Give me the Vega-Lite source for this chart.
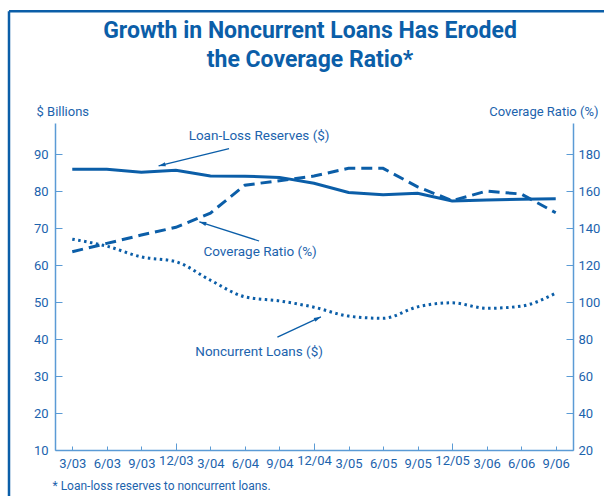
{
  "$schema": "https://vega.github.io/schema/vega-lite/v6.json",
  "width": 518,
  "height": 327,
  "autosize": {"type": "none"},
  "padding": {"left": 55, "top": 123, "right": 31, "bottom": 46},
  "background": "white",
  "config": {
    "font": "Roboto, sans-serif",
    "view": {"stroke": null},
    "axis": {
      "grid": false,
      "domainColor": "#5b9bd5",
      "tickColor": "#5b9bd5",
      "domainWidth": 1.5,
      "labelColor": "#1c63ad",
      "labelFontSize": 13,
      "titleColor": "#1c63ad",
      "titleFontWeight": "normal",
      "titleFontSize": 13
    }
  },
  "title": {
    "text": ["Growth in Noncurrent Loans Has Eroded", "the Coverage Ratio*"],
    "font": "Roboto",
    "fontSize": 23,
    "fontWeight": "bold",
    "color": "#0b5ea8",
    "lineHeight": 29,
    "anchor": "middle",
    "offset": -62,
    "dx": -4
  },
  "datasets": {
    "main": [
      {"i": 0, "q": "3/03", "reserves": 85.9, "noncurrent": 67.0, "coverage": 127.2},
      {"i": 1, "q": "6/03", "reserves": 85.9, "noncurrent": 65.1, "coverage": 131.7},
      {"i": 2, "q": "9/03", "reserves": 85.1, "noncurrent": 62.2, "coverage": 136.2},
      {"i": 3, "q": "12/03", "reserves": 85.6, "noncurrent": 60.9, "coverage": 140.4},
      {"i": 4, "q": "3/04", "reserves": 84.1, "noncurrent": 55.9, "coverage": 148.1},
      {"i": 5, "q": "6/04", "reserves": 84.0, "noncurrent": 51.4, "coverage": 163.2},
      {"i": 6, "q": "9/04", "reserves": 83.7, "noncurrent": 50.3, "coverage": 165.6},
      {"i": 7, "q": "12/04", "reserves": 82.1, "noncurrent": 48.6, "coverage": 168.1},
      {"i": 8, "q": "3/05", "reserves": 79.6, "noncurrent": 46.2, "coverage": 172.3},
      {"i": 9, "q": "6/05", "reserves": 79.0, "noncurrent": 45.6, "coverage": 172.3},
      {"i": 10, "q": "9/05", "reserves": 79.4, "noncurrent": 48.7, "coverage": 162.3},
      {"i": 11, "q": "12/05", "reserves": 77.3, "noncurrent": 49.8, "coverage": 154.8},
      {"i": 12, "q": "3/06", "reserves": 77.6, "noncurrent": 48.3, "coverage": 160.0},
      {"i": 13, "q": "6/06", "reserves": 77.8, "noncurrent": 48.9, "coverage": 158.4},
      {"i": 14, "q": "9/06", "reserves": 77.9, "noncurrent": 52.4, "coverage": 148.3}
    ],
    "notes": [
      {"label": "Loan-Loss Reserves ($)", "x": 5.41, "y": 94.9},
      {"label": "Coverage Ratio (%)", "x": 5.44, "y": 63.5},
      {"label": "Noncurrent Loans ($)", "x": 5.41, "y": 36.5}
    ],
    "arrows": [
      {"id": "reserves", "x": 4.54, "y": 91.5, "x2": 2.5, "y2": 86.8},
      {"id": "coverage", "x": 5.41, "y": 66.5, "x2": 3.68, "y2": 71.7},
      {"id": "noncurrent", "x": 5.94, "y": 40.5, "x2": 7.2, "y2": 46.0}
    ],
    "one": [{}]
  },
  "layer": [
    {
      "layer": [
        {
          "data": {"name": "main"},
          "mark": {"type": "line", "color": "#0b5ea8", "strokeWidth": 3},
          "encoding": {
            "x": {
              "field": "i",
              "type": "quantitative",
              "scale": {"domain": [-0.5, 14.5], "nice": false, "zero": false},
              "axis": {
                "values": [0, 1, 2, 3, 4, 5, 6, 7, 8, 9, 10, 11, 12, 13, 14],
                "tickCount": 15,
                "labelExpr": "['3/03','6/03','9/03','12/03','3/04','6/04','9/04','12/04','3/05','6/05','9/05','12/05','3/06','6/06','9/06'][datum.value]",
                "labelOverlap": false,
                "tickSize": {"condition": {"test": "datum.value % 4 == 3", "value": -7}, "value": -4},
                "labelPadding": 11,
                "labelFlush": false,
                "title": "* Loan-loss reserves to noncurrent loans.",
                "titleAnchor": "start",
                "titleAlign": "left",
                "titleBaseline": "alphabetic",
                "titleX": -3,
                "titleY": 39,
                "titleFontSize": 12
              }
            },
            "y": {
              "field": "reserves",
              "type": "quantitative",
              "scale": {"domain": [10, 98.4], "nice": false, "zero": false},
              "axis": {
                "values": [10, 20, 30, 40, 50, 60, 70, 80, 90],
                "tickSize": -7,
                "labelPadding": 14,
                "title": "$ Billions",
                "titleAngle": 0,
                "titleAlign": "left",
                "titleBaseline": "alphabetic",
                "titleX": -19,
                "titleY": -8
              }
            }
          }
        },
        {
          "data": {"name": "main"},
          "mark": {"type": "line", "color": "#0b5ea8", "strokeWidth": 3, "strokeDash": [2.5, 3.5], "interpolate": "monotone"},
          "encoding": {
            "x": {"field": "i", "type": "quantitative"},
            "y": {"field": "noncurrent", "type": "quantitative"}
          }
        },
        {
          "data": {"name": "notes"},
          "mark": {"type": "text", "fontSize": 13.5, "color": "#1c63ad", "align": "center", "baseline": "middle"},
          "encoding": {
            "x": {"field": "x", "type": "quantitative"},
            "y": {"field": "y", "type": "quantitative"},
            "text": {"field": "label"}
          }
        },
        {
          "data": {"name": "arrows"},
          "mark": {"type": "rule", "color": "#0b5ea8", "strokeWidth": 1.3},
          "encoding": {
            "x": {"field": "x", "type": "quantitative"},
            "y": {"field": "y", "type": "quantitative"},
            "x2": {"field": "x2"},
            "y2": {"field": "y2"}
          }
        },
        {
          "data": {"name": "arrows"},
          "transform": [{"filter": "datum.id == 'reserves'"}],
          "mark": {"type": "point", "shape": "M0,0L0.6,2L-0.6,2Z", "filled": true, "opacity": 1, "color": "#0b5ea8", "size": 49, "angle": 256.3},
          "encoding": {
            "x": {"field": "x2", "type": "quantitative"},
            "y": {"field": "y2", "type": "quantitative"}
          }
        },
        {
          "data": {"name": "arrows"},
          "transform": [{"filter": "datum.id == 'coverage'"}],
          "mark": {"type": "point", "shape": "M0,0L0.6,2L-0.6,2Z", "filled": true, "opacity": 1, "color": "#0b5ea8", "size": 49, "angle": 287.8},
          "encoding": {
            "x": {"field": "x2", "type": "quantitative"},
            "y": {"field": "y2", "type": "quantitative"}
          }
        },
        {
          "data": {"name": "arrows"},
          "transform": [{"filter": "datum.id == 'noncurrent'"}],
          "mark": {"type": "point", "shape": "M0,0L0.6,2L-0.6,2Z", "filled": true, "opacity": 1, "color": "#0b5ea8", "size": 49, "angle": 64.9},
          "encoding": {
            "x": {"field": "x2", "type": "quantitative"},
            "y": {"field": "y2", "type": "quantitative"}
          }
        },
        {
          "data": {"name": "one"},
          "mark": {"type": "rule", "color": "#0b5ea8", "strokeWidth": 2.5, "clip": false},
          "encoding": {
            "x": {"datum": -1.832, "type": "quantitative"},
            "y": {"datum": 128.6, "type": "quantitative"},
            "y2": {"datum": -5}
          }
        },
        {
          "data": {"name": "one"},
          "mark": {"type": "rule", "color": "#0b5ea8", "strokeWidth": 2.5, "clip": false},
          "encoding": {
            "x": {"datum": -1.832, "type": "quantitative"},
            "x2": {"datum": 16},
            "y": {"datum": 128.6, "type": "quantitative"}
          }
        }
      ]
    },
    {
      "data": {"name": "main"},
      "mark": {"type": "line", "color": "#0b5ea8", "strokeWidth": 3, "strokeDash": [11, 6]},
      "encoding": {
        "x": {
          "field": "i",
          "type": "quantitative",
          "axis": {
            "values": [0, 1, 2, 3, 4, 5, 6, 7, 8, 9, 10, 11, 12, 13, 14],
            "tickCount": 15,
            "labelExpr": "['3/03','6/03','9/03','12/03','3/04','6/04','9/04','12/04','3/05','6/05','9/05','12/05','3/06','6/06','9/06'][datum.value]",
            "labelOverlap": false,
            "tickSize": {"condition": {"test": "datum.value % 4 == 3", "value": -7}, "value": -4},
            "labelPadding": 11,
            "labelFlush": false,
            "title": "* Loan-loss reserves to noncurrent loans.",
            "titleAnchor": "start",
            "titleAlign": "left",
            "titleBaseline": "alphabetic",
            "titleX": -3,
            "titleY": 39,
            "titleFontSize": 12
          }
        },
        "y": {
          "field": "coverage",
          "type": "quantitative",
          "scale": {"domain": [20, 196.8], "nice": false, "zero": false},
          "axis": {
            "orient": "right",
            "values": [20, 40, 60, 80, 100, 120, 140, 160, 180],
            "tickSize": -7,
            "labelPadding": 12,
            "title": "Coverage Ratio (%)",
            "titleAngle": 0,
            "titleAlign": "right",
            "titleBaseline": "alphabetic",
            "titleX": 25,
            "titleY": -8
          }
        }
      }
    }
  ],
  "resolve": {"scale": {"y": "independent"}}
}
